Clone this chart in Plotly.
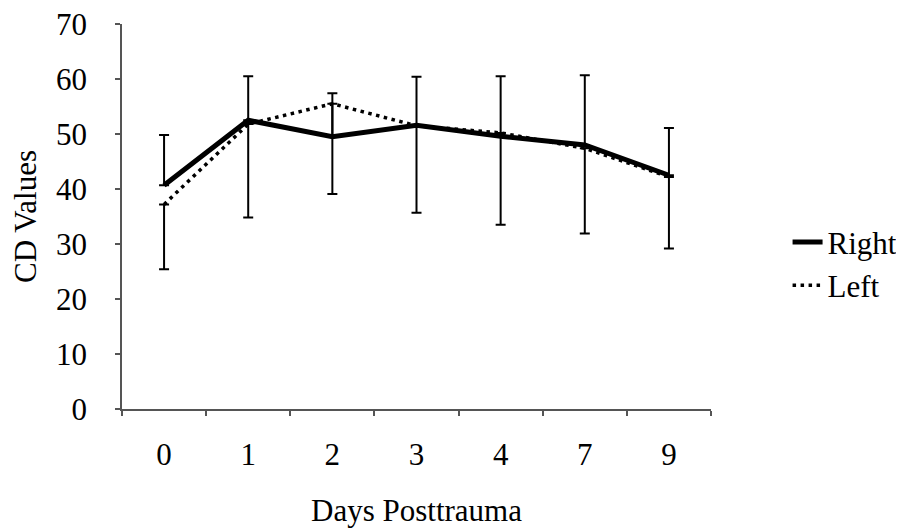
import plotly.graph_objects as go

days = ["0", "1", "2", "3", "4", "7", "9"]
right_values = [40.7, 52.5, 49.5, 51.6, 49.6, 48.0, 42.5]
right_err_plus = [9.1, 8.0, 7.9, 8.8, 10.9, 12.7, 8.6]
left_values = [37.2, 51.8, 55.5, 51.5, 50.2, 47.4, 42.2]
left_err_minus = [11.8, 17.0, 16.4, 15.8, 16.7, 15.5, 13.0]
zeros = [0] * len(days)
y_ticks = [0, 10, 20, 30, 40, 50, 60, 70]

FONT = "Liberation Serif, Times New Roman, serif"
FS = 31

fig = go.Figure()
fig.add_trace(go.Scatter(
    x=days, y=right_values, name="Right", mode="lines",
    line=dict(color="black", width=5),
    error_y=dict(type="data", array=right_err_plus, arrayminus=zeros,
                 symmetric=False, color="black", thickness=2, width=5),
))
fig.add_trace(go.Scatter(
    x=days, y=left_values, name="Left", mode="lines",
    line=dict(color="black", width=3.5, dash="3.5px,4.5px"),
    error_y=dict(type="data", array=zeros, arrayminus=left_err_minus,
                 symmetric=False, color="black", thickness=2, width=5),
))

fig.update_layout(
    width=904, height=530,
    margin=dict(l=114, r=201, t=16, b=129, autoexpand=False),
    paper_bgcolor="white", plot_bgcolor="white",
    font=dict(family=FONT, size=FS, color="black"),
    showlegend=True,
    legend=dict(x=1.13, xanchor="left", y=0.377, yanchor="middle",
                font=dict(family=FONT, size=FS, color="black"),
                bgcolor="rgba(0,0,0,0)", tracegroupgap=0),
)
fig.update_xaxes(
    type="category", range=[-0.5, 6.5], automargin=False,
    showline=True, linecolor="#555", linewidth=1.5,
    ticks="outside", tickson="boundaries", ticklen=5, tickcolor="#555", tickwidth=1.5,
    showgrid=False, zeroline=False,
    ticklabelstandoff=17, ticklabeloverflow="allow",
    tickfont=dict(family=FONT, size=FS),
    title=dict(text="Days Posttrauma", standoff=28, font=dict(family=FONT, size=FS)),
)
fig.update_yaxes(
    range=[0, 70], tickvals=y_ticks, automargin=False,
    showline=True, linecolor="#555", linewidth=1.5,
    ticks="outside", ticklen=5, tickcolor="#555", tickwidth=1.5,
    showgrid=False, zeroline=False,
    ticklabelstandoff=22, ticklabeloverflow="allow",
    tickfont=dict(family=FONT, size=FS),
    title=dict(text="CD Values", standoff=20, font=dict(family=FONT, size=FS)),
)

fig.write_html("out.html")
